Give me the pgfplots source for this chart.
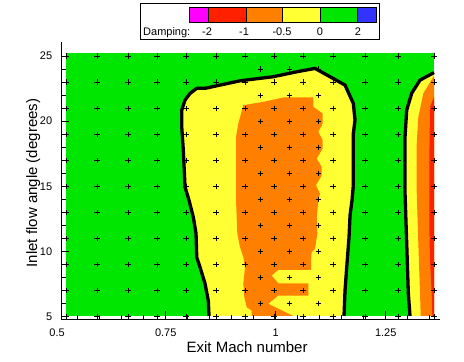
\documentclass[border=0pt]{standalone}
\usepackage{fontspec}
\setmainfont{Liberation Sans}
\usepackage{pgfplots}
\pgfplotsset{compat=1.18}
\definecolor{cgreen}{RGB}{0,230,0}
\definecolor{cyellow}{RGB}{255,255,51}
\definecolor{corange}{RGB}{255,128,0}
\definecolor{cred}{RGB}{255,32,0}
\definecolor{cmag}{RGB}{255,0,255}
\definecolor{cblue}{RGB}{51,51,255}
\newcommand{\tickfont}{\fontsize{11bp}{13bp}\selectfont}
\newcommand{\labfont}{\fontsize{15bp}{18bp}\selectfont}
\begin{document}
\begin{tikzpicture}[x=1bp,y=1bp]
\path[use as bounding box] (0,0) rectangle (464,361);
\begin{axis}[
  at={(61bp,41.7bp)}, anchor=south west,
  scale only axis, width=379bp, height=277.6bp,
  xmin=0.512, xmax=1.3734, ymin=4.793, ymax=26.1,
  clip=false, axis on top,
  axis x line=bottom, axis y line=left,
  axis line style={-, line width=1bp, black},
  xtick={0.75,1,1.25},
  minor xtick={0.55,0.6,0.65,0.7,0.8,0.85,0.9,0.95,1.05,1.1,1.15,1.2,1.3,1.35},
  ytick={5,10,15,20,25},
  minor ytick={6,7,8,9,11,12,13,14,16,17,18,19,21,22,23,24},
  tick align=inside,
  major tick length=8bp, minor tick length=4.5bp,
  every tick/.style={black, line width=1bp},
  /pgf/number format/assume math mode=true,
  xticklabel style={font=\tickfont, anchor=base, yshift=-17.4bp},
  yticklabel style={font=\tickfont, xshift=-5.3bp},
  xlabel={Exit Mach number},
  xlabel style={font=\labfont, at={(axis description cs:0.491,-0.1203)}, anchor=base},
  ylabel={Inlet flow angle (degrees)},
  ylabel style={font=\labfont, at={(axis description cs:-0.0633,0.491)}, anchor=base},
]
% background region (damping 0 to 2)
\addplot[fill=cgreen, draw=none] coordinates {
 (0.5234,5.05) (1.3598,5.05) (1.3598,25.2) (0.5234,25.2)};
% middle region, damping -0.5 to 0
\addplot[fill=cyellow, draw=none] coordinates {
 (0.8484,5.05) (0.8468,6.23) (0.8393,7.54) (0.8280,8.79) (0.8205,9.56)
 (0.8189,11.38) (0.8127,12.64) (0.8030,13.92) (0.7939,14.95) (0.7900,17.77)
 (0.7864,19.56) (0.7864,20.85) (0.7939,21.62) (0.8052,22.13) (0.8205,22.52)
 (0.8393,22.52) (0.9189,23.10) (0.9939,23.41) (1.0477,23.79) (1.0893,24.05)
 (1.1234,23.41) (1.1575,22.77) (1.1764,21.36) (1.1802,20.08) (1.1764,19.05)
 (1.1764,17.0) (1.1764,15.08) (1.1734,13.92) (1.1689,12.77) (1.1666,11.08)
 (1.1620,9.08) (1.1575,7.0) (1.1552,5.05)};
% middle region, damping -1 to -0.5
\addplot[fill=corange, draw=none] coordinates {
 (0.9264,21.23) (0.9718,21.48) (1.0173,21.82) (1.0855,21.82) (1.0855,21.10)
 (1.1068,20.59) (1.1068,19.82) (1.0968,19.18) (1.1068,18.54) (1.1068,17.90)
 (1.0932,17.13) (1.1045,16.48) (1.1045,15.85) (1.0916,15.08) (1.1007,14.44)
 (1.0968,13.92) (1.0932,12.64) (1.0945,11.36) (1.0893,10.21) (1.0818,9.95)
 (1.0802,9.31) (1.0802,8.59) (1.0059,8.59) (0.9909,8.15) (1.0059,7.56)
 (1.0741,7.56) (1.0741,6.62) (1.0059,6.62) (0.9832,5.98) (1.0400,5.05)
 (0.9455,5.05) (0.9455,5.46) (0.9341,5.72) (0.9286,6.48) (0.9264,7.52)
 (0.9302,8.79) (0.9264,9.56) (0.9189,10.33) (0.9127,11.36) (0.9098,13.92)
 (0.9098,18.79) (0.9150,19.82)};
% right region
\addplot[fill=cyellow, draw=none] coordinates {
 (1.3598,23.73) (1.3280,23.15) (1.3091,22.15) (1.2977,20.85) (1.2939,18.79)
 (1.2939,14.46) (1.2977,10.62) (1.3014,6.77) (1.3052,5.05) (1.3598,5.05)};
\addplot[fill=corange, draw=none] coordinates {
 (1.3598,23.5) (1.3355,22.13) (1.3241,20.31) (1.3205,18.31) (1.3205,14.46)
 (1.3241,10.62) (1.3280,6.77) (1.3295,5.05) (1.3598,5.05)};
\addplot[fill=cred, draw=none] coordinates {
 (1.3598,21.85) (1.3507,21.1) (1.3491,17.0) (1.3491,11.85) (1.3507,9.31)
 (1.3545,6.77) (1.3559,5.05) (1.3598,5.05)};
% zero-damping contour
\addplot[black, line width=3.3bp, line join=round] coordinates {
 (0.8484,5.05) (0.8468,6.23) (0.8393,7.54) (0.8280,8.79) (0.8205,9.56)
 (0.8189,11.38) (0.8127,12.64) (0.8030,13.92) (0.7939,14.95) (0.7900,17.77)
 (0.7864,19.56) (0.7864,20.85) (0.7939,21.62) (0.8052,22.13) (0.8205,22.52)
 (0.8393,22.52) (0.9189,23.10) (0.9939,23.41) (1.0477,23.79) (1.0893,24.05)
 (1.1234,23.41) (1.1575,22.77) (1.1764,21.36) (1.1802,20.08) (1.1764,19.05)
 (1.1764,17.0) (1.1764,15.08) (1.1734,13.92) (1.1689,12.77) (1.1666,11.08)
 (1.1620,9.08) (1.1575,7.0) (1.1552,5.05)};
\addplot[black, line width=3.3bp, line join=round] coordinates {
 (1.3598,23.73) (1.3280,23.15) (1.3091,22.15) (1.2977,20.85) (1.2939,18.79)
 (1.2939,14.46) (1.2977,10.62) (1.3014,6.77) (1.3052,5.05)};
% measurement points
\addplot[only marks, mark=+, mark size=2.6bp, mark options={line width=0.9bp, black}] coordinates {
 (0.5234,25) (0.5939,25) (0.6643,25) (0.7302,25) (0.7961,25) (0.8643,25) (0.9302,25) (0.9961,25) (1.0620,25) (1.1302,25) (1.2030,25) (1.2780,25) (1.3598,25)
 (0.5234,23) (0.5939,23) (0.6643,23) (0.7302,23) (0.7961,23) (0.8643,23) (0.9302,23) (0.9961,23) (1.0620,23) (1.1302,23) (1.2030,23) (1.2780,23) (1.3598,23)
 (0.5234,21) (0.5939,21) (0.6643,21) (0.7302,21) (0.7961,21) (0.8643,21) (0.9302,21) (0.9961,21) (1.0620,21) (1.1302,21) (1.2030,21) (1.2780,21) (1.3598,21)
 (0.5234,19) (0.5939,19) (0.6643,19) (0.7302,19) (0.7961,19) (0.8643,19) (0.9302,19) (0.9961,19) (1.0620,19) (1.1302,19) (1.2030,19) (1.2780,19) (1.3598,19)
 (0.5234,17) (0.5939,17) (0.6643,17) (0.7302,17) (0.7961,17) (0.8643,17) (0.9302,17) (0.9961,17) (1.0620,17) (1.1302,17) (1.2030,17) (1.2780,17) (1.3598,17)
 (0.5234,15) (0.5939,15) (0.6643,15) (0.7302,15) (0.7961,15) (0.8643,15) (0.9302,15) (0.9961,15) (1.0620,15) (1.1302,15) (1.2030,15) (1.2780,15) (1.3598,15)
 (0.5234,13) (0.5939,13) (0.6643,13) (0.7302,13) (0.7961,13) (0.8643,13) (0.9302,13) (0.9961,13) (1.0620,13) (1.1302,13) (1.2030,13) (1.2780,13) (1.3598,13)
 (0.5234,11) (0.5939,11) (0.6643,11) (0.7302,11) (0.7961,11) (0.8643,11) (0.9302,11) (0.9961,11) (1.0620,11) (1.1302,11) (1.2030,11) (1.2780,11) (1.3598,11)
 (0.5234,9) (0.5939,9) (0.6643,9) (0.7302,9) (0.7961,9) (0.8643,9) (0.9302,9) (0.9961,9) (1.0620,9) (1.1302,9) (1.2030,9) (1.2780,9) (1.3598,9)
 (0.5234,7) (0.5939,7) (0.6643,7) (0.7302,7) (0.7961,7) (0.8643,7) (0.9302,7) (0.9961,7) (1.0620,7) (1.1302,7) (1.2030,7) (1.2780,7) (1.3598,7)
 (0.5234,5) (0.5939,5) (0.6643,5) (0.7302,5) (0.7961,5) (0.8643,5) (0.9302,5) (0.9961,5) (1.0620,5) (1.1302,5) (1.2030,5) (1.2780,5) (1.3598,5)
 (0.9648,24) (1.0307,24) (1.0966,24)
 (0.9648,22) (1.0307,22) (1.0966,22)
 (0.9648,20) (1.0307,20) (1.0966,20)
 (0.9648,18) (1.0307,18) (1.0966,18)
 (0.9648,16) (1.0307,16) (1.0966,16)
 (0.9648,14) (1.0307,14) (1.0966,14)
 (0.9648,12) (1.0307,12) (1.0966,12)
 (0.9648,10) (1.0307,10) (1.0966,10)
 (0.9648,8) (1.0307,8) (1.0966,8)
 (0.9648,6) (1.0307,6) (1.0966,6)};
\node[font=\tickfont, anchor=base, inner sep=0pt] at (axis cs:0.503,4.793) [yshift=-17.4bp] {0.5};
\end{axis}
% legend
\draw[line width=1bp, fill=white] (140,322) rectangle (379,357.7);
\filldraw[fill=cmag, draw=black, line width=0.8bp] (189,338.3) rectangle (208,353.7);
\filldraw[fill=cred, draw=black, line width=0.8bp] (208,338.3) rectangle (246,353.7);
\filldraw[fill=corange, draw=black, line width=0.8bp] (246,338.3) rectangle (282,353.7);
\filldraw[fill=cyellow, draw=black, line width=0.8bp] (282,338.3) rectangle (320,353.7);
\filldraw[fill=cgreen, draw=black, line width=0.8bp] (320,338.3) rectangle (357,353.7);
\filldraw[fill=cblue, draw=black, line width=0.8bp] (357,338.3) rectangle (376,353.7);
\begin{scope}[every node/.style={font=\tickfont, inner sep=0pt}]
\node[anchor=base west] at (143,326) {Damping:};
\node[anchor=base] at (207,326) {-2};
\node[anchor=base] at (244,326) {-1};
\node[anchor=base] at (282,326) {-0.5};
\node[anchor=base] at (320,326) {0};
\node[anchor=base] at (358,326) {2};
\end{scope}
\end{tikzpicture}
\end{document}
